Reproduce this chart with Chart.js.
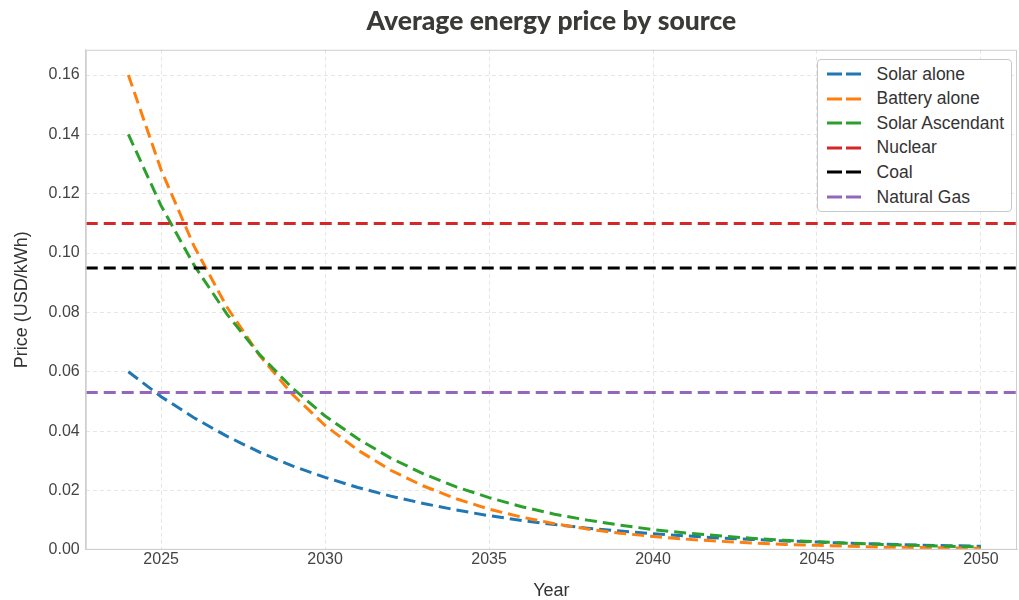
<!DOCTYPE html>
<html>
<head>
<meta charset="utf-8">
<script src="https://cdn.jsdelivr.net/npm/chart.js@4.4.1/dist/chart.umd.min.js"></script>
<style>
  html, body { margin: 0; padding: 0; background: #fff; }
  #wrap { position: relative; width: 1019px; height: 600px; }
  #legend { position: absolute; background: #fff; border: 1px solid #c8c8c8; border-radius: 4px;
            font-family: "Liberation Sans", Arial, sans-serif; font-size: 17.5px; color: #333; padding: 2px 7px 2px 9px; box-sizing: border-box; }
  #legend .item { display: flex; align-items: center; height: 24.6px; white-space: nowrap; }
  #legend svg { margin-right: 16px; flex: none; }
</style>
</head>
<body>
<div id="wrap">
  <canvas id="c" width="1019" height="600"></canvas>
  <div id="legend"></div>
</div>
<script>
const years = [2024,2025,2026,2027,2028,2029,2030,2031,2032,2033,2034,2035,2036,2037,2038,2039,2040,2041,2042,2043,2044,2045,2046,2047,2048,2049,2050];
const solarAlone = [0.0600,0.0516,0.0445,0.0383,0.0329,0.0283,0.0244,0.0210,0.0181,0.0156,0.0134,0.0115,0.0099,0.0085,0.0073,0.0063,0.0054,0.0047,0.0040,0.0035,0.0030,0.0026,0.0022,0.0019,0.0016,0.0014,0.0012];
const batteryAlone = [0.1600,0.1280,0.1024,0.0819,0.0655,0.0524,0.0419,0.0336,0.0268,0.0215,0.0172,0.0137,0.0110,0.0088,0.0070,0.0056,0.0045,0.0036,0.0029,0.0023,0.0018,0.0015,0.0012,0.0009,0.0008,0.0006,0.0005];
const solarAscendant = [0.1400,0.1159,0.0960,0.0795,0.0658,0.0545,0.0451,0.0374,0.0309,0.0256,0.0212,0.0176,0.0145,0.0120,0.0100,0.0083,0.0068,0.0057,0.0047,0.0039,0.0032,0.0027,0.0022,0.0018,0.0015,0.0012,0.0010];
const nuclearPrice = 0.110;
const coalPrice = 0.095;
const gasPrice = 0.053;
const seriesNames = ["Solar alone","Battery alone","Solar Ascendant","Nuclear","Coal","Natural Gas"];
const seriesColors = ["#1f77b4","#ff7f0e","#2ca02c","#d62728","#000000","#9467bd"];
const xTickValues = [2025,2030,2035,2040,2045,2050];
const yTickValues = [0,0.02,0.04,0.06,0.08,0.10,0.12,0.14,0.16];
const xRange = [2022.7, 2051.1];
const yRange = [0, 0.1685];

const curve = arr => years.map((y,i) => ({x: y, y: arr[i]}));
const flat = v => [{x: xRange[0], y: v}, {x: xRange[1], y: v}];
const seriesData = [curve(solarAlone), curve(batteryAlone), curve(solarAscendant), flat(nuclearPrice), flat(coalPrice), flat(gasPrice)];

const datasets = seriesNames.map((name, i) => ({
  label: name,
  data: seriesData[i],
  borderColor: seriesColors[i],
  backgroundColor: seriesColors[i],
  borderWidth: 3,
  borderDash: [12, 6],
  pointRadius: 0,
  tension: 0,
  fill: false,
  order: 5 - i
}));

const framePlugin = {
  id: 'frame',
  afterDraw(chart) {
    const {ctx, chartArea: a} = chart;
    ctx.save();
    ctx.strokeStyle = '#cfcfcf';
    ctx.lineWidth = 1;
    ctx.strokeRect(a.left + 0.5, a.top + 0.5, a.right - a.left - 1, a.bottom - a.top - 1);
    ctx.restore();
  }
};

const tickFont = {family: '"Liberation Sans", Arial, sans-serif', size: 16};
const chart = new Chart(document.getElementById('c'), {
  type: 'line',
  data: {datasets},
  options: {
    responsive: false,
    animation: false,
    layout: {padding: {left: 11, right: 2, top: 2, bottom: 0}},
    plugins: {
      legend: {display: false},
      tooltip: {enabled: false},
      title: {
        display: true,
        fullSize: false,
        text: 'Average energy price by source',
        color: '#3a3a36',
        font: {family: 'Lato, "Open Sans", sans-serif', size: 26.5, weight: '900'},
        padding: {top: 4, bottom: 12}
      }
    },
    scales: {
      x: {
        type: 'linear',
        min: xRange[0], max: xRange[1],
        afterBuildTicks: s => { s.ticks = xTickValues.map(v => ({value: v})); },
        ticks: {color: '#444', font: tickFont, padding: 0, maxRotation: 0, callback: v => String(v)},
        grid: {color: '#e6e6e6', lineWidth: 1, drawTicks: false},
        border: {display: true, color: '#cfcfcf', dash: [4, 3]},
        title: {display: true, text: 'Year', color: '#333', font: {family: '"Liberation Sans", Arial, sans-serif', size: 18, lineHeight: 1.0}, padding: {top: 13, bottom: 0}}
      },
      y: {
        type: 'linear',
        min: yRange[0], max: yRange[1],
        afterBuildTicks: s => { s.ticks = yTickValues.map(v => ({value: v})); },
        ticks: {color: '#444', font: tickFont, padding: 6, callback: v => Number(v).toFixed(2)},
        grid: {color: '#e6e6e6', lineWidth: 1, drawTicks: false},
        border: {display: true, color: '#cfcfcf', dash: [4, 3]},
        title: {display: true, text: 'Price (USD/kWh)', color: '#333', font: {family: '"Liberation Sans", Arial, sans-serif', size: 18}, padding: {top: 0, bottom: 10}}
      }
    }
  },
  plugins: [framePlugin]
});

// HTML legend built from the chart's datasets, placed inside the plot area (upper right)
const leg = document.getElementById('legend');
chart.data.datasets.forEach(ds => {
  const item = document.createElement('div');
  item.className = 'item';
  item.innerHTML = '<svg width="34" height="6"><line x1="0" y1="3" x2="34" y2="3" stroke="' + ds.borderColor +
    '" stroke-width="3" stroke-dasharray="15 4"/></svg><span>' + ds.label + '</span>';
  leg.appendChild(item);
});
const a = chart.chartArea;
leg.style.right = (1019 - a.right + 5) + 'px';
leg.style.top = (a.top + 9) + 'px';
</script>
</body>
</html>
